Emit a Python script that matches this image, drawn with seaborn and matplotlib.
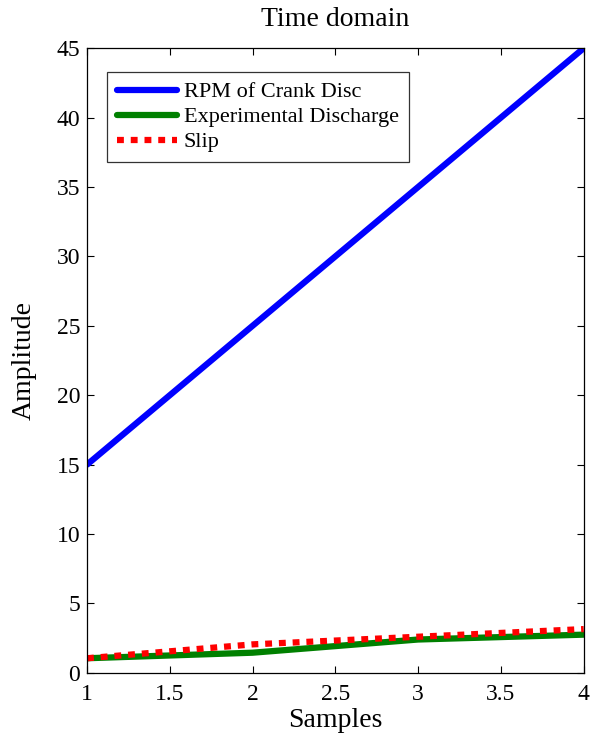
import matplotlib
matplotlib.use("Agg")
import matplotlib.pyplot as plt
import seaborn as sns
import pandas as pd

samples = [1, 2, 3, 4]
rpm = [15, 25, 35, 45]
discharge = [1.05, 1.45, 2.4, 2.75]
slip = [1.05, 2.05, 2.6, 3.15]

sns.set_style("ticks")
plt.rcParams['font.family'] = ['Liberation Serif', 'DejaVu Serif']
plt.rcParams['text.color'] = 'black'
plt.rcParams['axes.labelcolor'] = 'black'

df = pd.DataFrame({"Samples": samples * 3,
                   "Amplitude": rpm + discharge + slip,
                   "Series": ["RPM of Crank Disc"] * 4 + ["Experimental Discharge"] * 4 + ["Slip"] * 4})

fig = plt.figure(figsize=(5.92, 7.41), dpi=100)
ax = fig.add_axes([0.147, 0.092, 0.839, 0.843])

sns.lineplot(data=df, x="Samples", y="Amplitude", hue="Series", style="Series",
             palette={"RPM of Crank Disc": "#0000ff", "Experimental Discharge": "#008000", "Slip": "#ff0000"},
             dashes={"RPM of Crank Disc": "", "Experimental Discharge": "", "Slip": (1.1, 1.1)},
             linewidth=4.5, ax=ax)

ax.set_xlim(1, 4)
ax.set_ylim(0, 45)
ax.set_xticks([1, 1.5, 2, 2.5, 3, 3.5, 4])
ax.set_xticklabels(["1", "1.5", "2", "2.5", "3", "3.5", "4"])
ax.set_yticks(range(0, 46, 5))
ax.tick_params(direction="in", top=True, right=True, labelsize=17, length=5, width=0.8,
               colors="black", labelcolor="black")
ax.tick_params(axis="x", pad=8)
ax.tick_params(axis="y", pad=5)
for s in ax.spines.values():
    s.set_visible(True)
    s.set_linewidth(0.9)
    s.set_color("black")
ax.set_xlabel("Samples", fontsize=20, labelpad=2)
ax.set_ylabel("Amplitude", fontsize=20, labelpad=14)
ax.set_title("Time domain", fontsize=20, pad=16)

leg = ax.legend(loc="upper left", bbox_to_anchor=(0.040, 0.962), borderaxespad=0,
                fontsize=16, frameon=True,
                fancybox=False, edgecolor="black", handlelength=2.7, borderpad=0.45,
                labelspacing=0.2, handletextpad=0.3)
leg.get_frame().set_linewidth(0.9)

fig.savefig("out.png", dpi=100)
